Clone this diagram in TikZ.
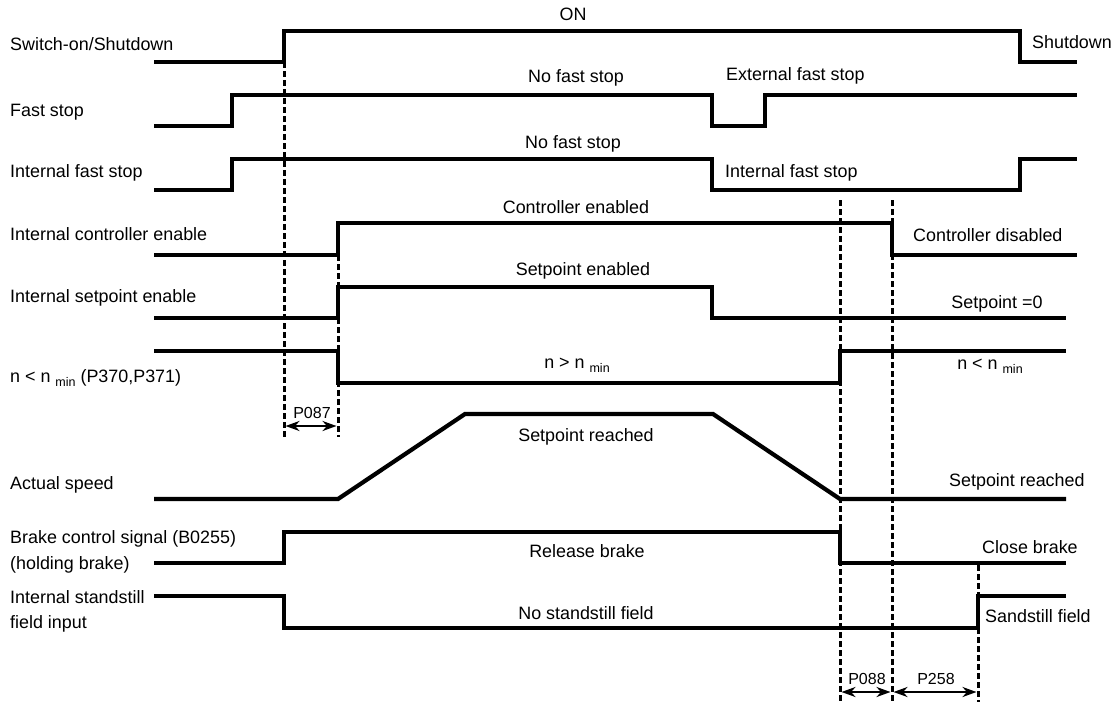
\documentclass[tikz,border=0pt]{standalone}
\usepackage{fontspec}
\setmainfont{Liberation Sans}
\usetikzlibrary{arrows.meta}
\newcommand\subm{\raisebox{-4pt}{\fontsize{12.5}{14}\selectfont min}}
\begin{document}
\begin{tikzpicture}[x=1pt,y=-1pt,
 sig/.style={line width=4.2pt, line join=miter, line cap=butt},
 dsh/.style={line width=3pt, dash pattern=on 6pt off 3pt},
 lbl/.style={anchor=base west, inner sep=0pt, font=\fontsize{17.9}{21}\selectfont},
 ctr/.style={anchor=base, inner sep=0pt, font=\fontsize{17.9}{21}\selectfont},
 dimtxt/.style={anchor=base, inner sep=0pt, font=\fontsize{16}{19}\selectfont},
 dimarrow/.style={line width=2.8pt, {Stealth[length=14pt,width=10pt]}-{Stealth[length=14pt,width=10pt]}},
]
\useasboundingbox (0,0) rectangle (1114,704);
\fill[white] (0,0) rectangle (1114,704);

% dashed time markers
\coordinate (d1t) at (284,62);  \coordinate (d1b) at (284,437);
\coordinate (d2t) at (338,255); \coordinate (d2b) at (338,437);
\coordinate (d3t) at (840,200); \coordinate (d3b) at (840,702);
\coordinate (d4t) at (892,200); \coordinate (d4b) at (892,702);
\coordinate (d5t) at (978,565); \coordinate (d5b) at (978,702);
\draw[dsh] (d1t) -- (d1b);
\draw[dsh] (d2t) -- (d2b);
\draw[dsh] (d3t) -- (d3b);
\draw[dsh] (d4t) -- (d4b);
\draw[dsh] (d5t) -- (d5b);

% signals
\draw[sig] (154,62) -- (284,62) -- (284,31) -- (1020,31) -- (1020,62) -- (1077,62);
\draw[sig] (154,126) -- (232,126) -- (232,95) -- (712,95) -- (712,126) -- (765,126) -- (765,95) -- (1077,95);
\draw[sig] (154,190) -- (232,190) -- (232,159) -- (712,159) -- (712,190) -- (1020,190) -- (1020,159) -- (1077,159);
\draw[sig] (154,255) -- (338,255) -- (338,223) -- (892,223) -- (892,255) -- (1077,255);
\draw[sig] (154,318) -- (338,318) -- (338,287) -- (712,287) -- (712,318) -- (1066,318);
\draw[sig] (154,351) -- (338,351) -- (338,383) -- (840,383) -- (840,351) -- (1066,351);
\draw[sig] (154,499) -- (338,499) -- (465,414) -- (713,414) -- (840,499) -- (1066,499);
\draw[sig] (154,563) -- (284,563) -- (284,532) -- (840,532) -- (840,563) -- (1066,563);
\draw[sig] (154,596) -- (284,596) -- (284,628) -- (978,628) -- (978,596) -- (1066,596);

% left labels
\node[lbl] (l1) at (10,50) {Switch-on/Shutdown};
\node[lbl] (l2) at (10,116) {Fast stop};
\node[lbl] (l3) at (10,177) {Internal fast stop};
\node[lbl] (l4) at (10,240) {Internal controller enable};
\node[lbl] (l5) at (10,302) {Internal setpoint enable};
\node[lbl] (l6) at (10,382) {n < n \subm{} (P370,P371)};
\node[lbl] (l7) at (10,489) {Actual speed};
\node[lbl] (l8a) at (10,543) {Brake control signal (B0255)};
\node[lbl] (l8b) at (10,569) {(holding brake)};
\node[lbl] (l9a) at (10,603) {Internal standstill};
\node[lbl] (l9b) at (10,628) {field input};

% state labels
\node[ctr] (on) at (573,20) {ON};
\node[lbl] (sd) at (1032,48) {Shutdown};
\node[ctr] (nfs1) at (576,82) {No fast stop};
\node[lbl] (efs) at (726,80) {External fast stop};
\node[ctr] (nfs2) at (573,148) {No fast stop};
\node[lbl] (ifs) at (725,177) {Internal fast stop};
\node[ctr] (ce) at (576,213) {Controller enabled};
\node[lbl] (cd) at (913,241) {Controller disabled};
\node[ctr] (se) at (583,275) {Setpoint enabled};
\node[ctr] (s0) at (997,308) {Setpoint =0};
\node[ctr] (ngt) at (577,368) {n > n \subm};
\node[ctr] (nlt) at (990,369) {n < n \subm};
\node[ctr] (sr1) at (586,441) {Setpoint reached};
\node[lbl] (sr2) at (949,486) {Setpoint reached};
\node[ctr] (rb) at (587,557) {Release brake};
\node[lbl] (cb) at (982,553) {Close brake};
\node[ctr] (nsf) at (586,619) {No standstill field};
\node[lbl] (ssf) at (985,622) {Sandstill field};

% time dimensions
\coordinate (a1) at (285.5,426); \coordinate (a2) at (336.5,426);
\draw[dimarrow] (a1) -- (a2);
\node[dimtxt] (p087) at (312,418) {P087};
\coordinate (b1) at (841.5,692); \coordinate (b2) at (890.5,692);
\draw[dimarrow] (b1) -- (b2);
\node[dimtxt] (p088) at (867,684) {P088};
\coordinate (c1) at (893.5,692); \coordinate (c2) at (976.5,692);
\draw[dimarrow] (c1) -- (c2);
\node[dimtxt] (p258) at (936,684) {P258};
\end{tikzpicture}
\end{document}
